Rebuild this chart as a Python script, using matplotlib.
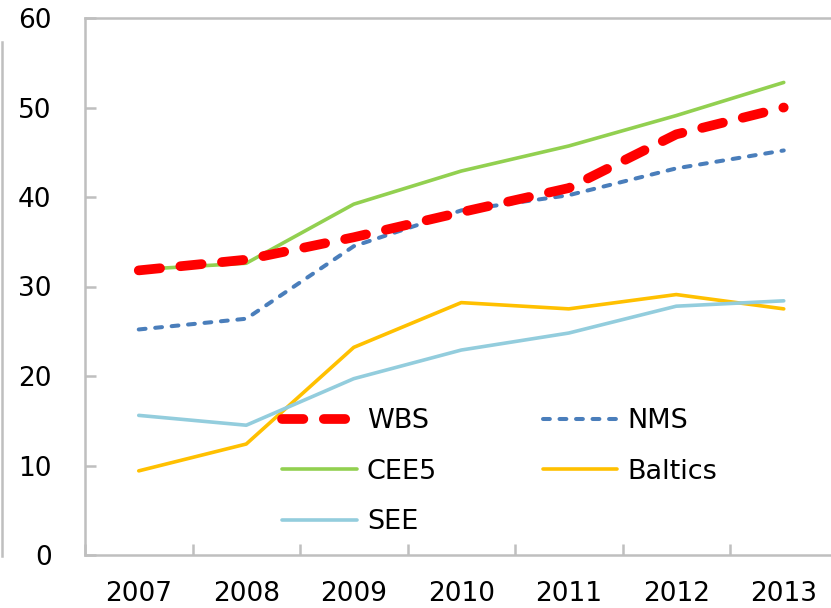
import matplotlib
matplotlib.use("Agg")
import matplotlib.pyplot as plt
from matplotlib.lines import Line2D

years = ["2007", "2008", "2009", "2010", "2011", "2012", "2013"]
wbs = [31.8, 33.0, 35.5, 38.3, 41.0, 47.0, 50.0]
nms = [25.2, 26.4, 34.5, 38.5, 40.2, 43.2, 45.2]
cee5 = [31.9, 32.6, 39.2, 42.9, 45.7, 49.1, 52.8]
baltics = [9.4, 12.4, 23.2, 28.2, 27.5, 29.1, 27.5]
see = [15.6, 14.5, 19.7, 22.9, 24.8, 27.8, 28.4]

W, H = 831, 608
fig = plt.figure(figsize=(W / 100, H / 100), dpi=100)
ax = fig.add_axes([85 / W, (H - 555) / H, (837.5 - 85) / W, (555 - 18) / H])

x = list(range(len(years)))
ax.plot(x, cee5, color="#92D050", lw=2.6, label="CEE5", solid_capstyle="round")
ax.plot(x, baltics, color="#FFC000", lw=2.6, label="Baltics", solid_capstyle="round")
ax.plot(x, see, color="#93CDDD", lw=2.6, label="SEE", solid_capstyle="round")
ax.plot(x, nms, color="#4A7EBB", lw=2.9, ls=(0, (1.7, 2.4)), dash_capstyle="round", label="NMS")
ax.plot(x, wbs, color="#FF0000", lw=7, ls=(0, (2.2, 2.1)), dash_capstyle="round", label="WBS")

ax.set_xlim(-0.5, 6.5)
ax.set_ylim(0, 60)
ax.set_yticks(range(0, 61, 10))
ax.set_xticks(x)
ax.set_xticklabels(years)
ax.set_xticks([i + 0.5 for i in range(-1, 7)], minor=True)

gray = "#BFBFBF"
for s in ax.spines.values():
    s.set_color(gray)
    s.set_linewidth(1.8)
ax.tick_params(axis="x", which="major", length=0, pad=19, labelsize=19)
ax.tick_params(axis="x", which="minor", direction="in", length=8, width=1.8, color=gray)
ax.tick_params(axis="y", direction="in", length=8, width=1.8, color=gray, pad=24, labelsize=19)

h = {l.get_label(): l for l in ax.get_lines()}
order = ["WBS", "CEE5", "SEE", "NMS", "Baltics"]
ax.legend([h[k] for k in order], order, ncol=2, frameon=False, fontsize=19.5,
          loc="upper left", bbox_to_anchor=(258 / W, 1 - 384 / H), bbox_transform=fig.transFigure,
          handlelength=2.75, handletextpad=0.37, columnspacing=3.9, labelspacing=0.9)

fig.add_artist(Line2D([1.5 / W, 1.5 / W], [1 - 42 / H, 1 - 556 / H], color=gray, lw=1.8,
                      transform=fig.transFigure))

fig.savefig("out.png", dpi=100)
